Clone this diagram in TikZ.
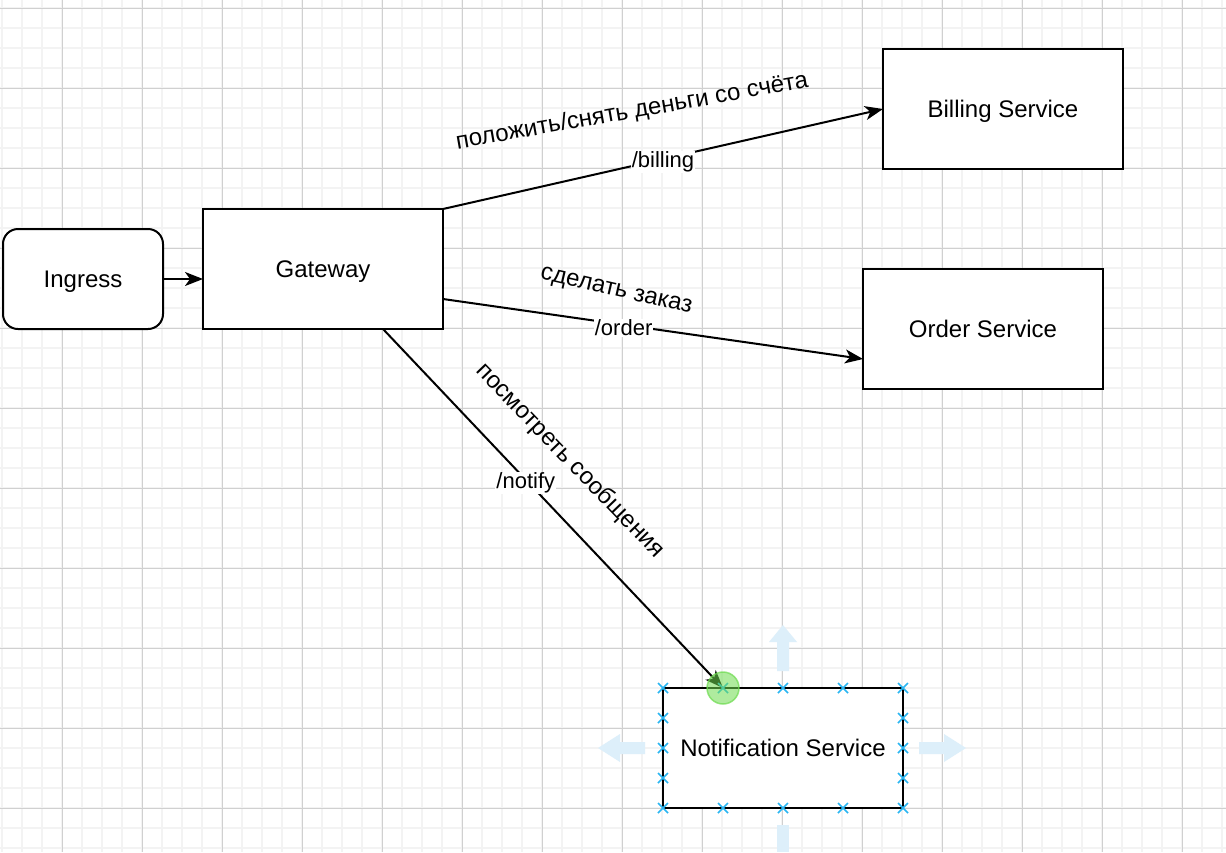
\documentclass[tikz,border=0pt]{standalone}
\usepackage{fontspec}
\setmainfont{Liberation Sans}
\usepackage{xcolor}
\usepackage{tikz}
\usetikzlibrary{positioning,arrows.meta,calc}

\definecolor{minorgrid}{RGB}{243,243,243}
\definecolor{majorgrid}{RGB}{208,208,208}
\definecolor{handleblue}{RGB}{41,182,242}
\definecolor{hintblue}{RGB}{221,239,250}
\definecolor{hilite}{RGB}{110,220,80}

\begin{document}
\begin{tikzpicture}[x=1pt, y=-1pt, node distance=40pt,
  every node/.style={font=\fontsize{24}{28}\selectfont},
  service/.style={rectangle, draw, line width=2pt, fill=white, outer sep=0pt, text height=17pt, text depth=0pt, minimum width=240pt, minimum height=120pt},
  entry/.style={rectangle, rounded corners=15pt, draw, line width=2pt, fill=white, outer sep=0pt, text height=17pt, text depth=0pt, minimum width=160pt, minimum height=100pt},
  link/.style={line width=2pt, -{Stealth[length=18pt,width=14pt,inset=5pt]}},
  routelabel/.style={fill=white, inner sep=1pt, yshift=-3pt, font=\fontsize{22}{26}\selectfont},
  handle/.style={handleblue, line width=1.5pt}]
\useasboundingbox (0,0) rectangle (1226,852);
\fill[white] (0,0) rectangle (1226,852);

% grid
\foreach \gx in {2,22,...,1222} \draw[minorgrid, line width=2pt] (\gx,0) -- (\gx,852);
\foreach \gy in {8,28,...,848} \draw[minorgrid, line width=2pt] (0,\gy) -- (1226,\gy);
\foreach \gx in {62,142,...,1182} \draw[majorgrid, line width=1pt] (\gx,0) -- (\gx,852);
\foreach \gy in {8,88,...,808} \draw[majorgrid, line width=1pt] (0,\gy) -- (1226,\gy);

% hint arrows round the selected box
\fill[hintblue] (777,671) -- (777,642) -- (769,642) -- (783,625) -- (797,642) -- (789,642) -- (789,671) -- cycle;
\fill[hintblue] (645,742) -- (620,742) -- (620,734) -- (598,748) -- (620,762) -- (620,754) -- (645,754) -- cycle;
\fill[hintblue] (919,742) -- (944,742) -- (944,734) -- (966,748) -- (944,762) -- (944,754) -- (919,754) -- cycle;
\fill[hintblue] (777,825) rectangle (789,852);

\node[entry] (ingress) at (83,279) {Ingress};
\node[service, right=40pt of ingress, yshift=10pt] (gateway) {Gateway};
\node[service, right=440pt of gateway, yshift=160pt] (billing) {Billing Service};
\node[service, right=420pt of gateway, yshift=-60pt] (order) {Order Service};
\node[service, below=359pt of gateway, xshift=460pt] (notification) {Notification Service};

\draw[link] (ingress.east) -- (ingress.east -| gateway.west);
\draw[link] (gateway.north east) -- node[routelabel, pos=0.5] (billingroute) {/billing} (billing.west);
\draw[link] ($(gateway.east)!0.5!(gateway.south east)$) -- node[routelabel, pos=0.43] (orderroute) {/order} ($(order.west)!0.5!(order.south west)$);
\draw[link] ($(gateway.south)!0.5!(gateway.south east)$) -- node[routelabel, pos=0.42] (notifyroute) {/notify} ($(notification.north west)!0.5!(notification.north)$);

\node[rotate=10] (billingnote) at (632,112) {положить/снять деньги со счёта};
\node[rotate=-13] (ordernote) at (616,292) {сделать заказ};
\node[rotate=-46] (notifynote) at (570,461) {посмотреть сообщения};

% selection handles
\foreach \cx/\cy in {663/688,723/688,783/688,843/688,903/688,663/808,723/808,783/808,843/808,903/808,663/718,663/748,663/778,903/718,903/748,903/778}
  \draw[handle] (\cx-5,\cy-5) -- (\cx+5,\cy+5) (\cx-5,\cy+5) -- (\cx+5,\cy-5);
\filldraw[hilite, fill opacity=0.55, draw opacity=0.7, line width=1.5pt] (723,688) circle (16);
\end{tikzpicture}
\end{document}
